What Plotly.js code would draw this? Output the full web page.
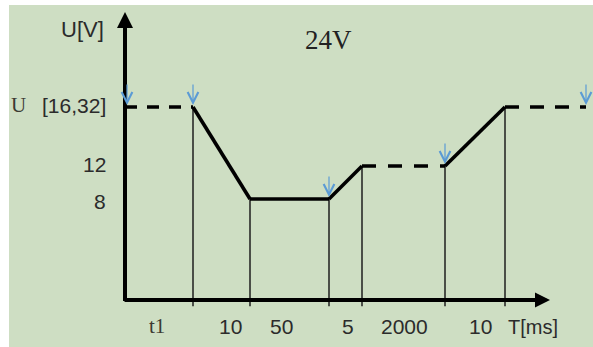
<!DOCTYPE html>
<html>
<head>
<meta charset="utf-8">
<script src="https://cdn.plot.ly/plotly-3.0.1.min.js"></script>
<style>html,body{margin:0;padding:0;background:#fff;}#chart{width:593px;height:347px;}</style>
</head>
<body>
<div id="chart"></div>
<script>
// ---- data (schematic timing diagram, not to scale) ----
const U_SHOWN = 19.15;                       // height at which U (16..32 V) is drawn
const levelValues = [U_SHOWN, 12, 8];
const levelLabels = ['[16,32]', '12', '8'];
const voltage = [U_SHOWN, U_SHOWN, 8, 8, 12, 12, U_SHOWN, U_SHOWN];
const segSpan = [68, 57, 79, 33, 83, 60, 81];   // schematic widths of the phases
const segLabels = ['t1', '10', '50', '5', '2000', '10'];
const segDash = ['dash', 'solid', 'solid', 'solid', 'dash', 'solid', 'dash'];
const markedPoints = [0, 1, 3, 5, 7];          // blue arrows
const baseV = -4.24;                          // level of the time axis

// ---- build ----
const times = [0];
segSpan.forEach(w => times.push(times[times.length - 1] + w));

const W = 593, H = 347, L = 100, R = 0, T = 5, B = 37;
const pw = W - L - R, ph = H - T - B;
const pX = px => (px - L) / pw;
const pY = py => (H - B - py) / ph;

const traces = [];
// vertical guide lines
for (let i = 1; i <= 6; i++) {
  traces.push({x: [times[i], times[i]], y: [voltage[i], baseV - 0.75], mode: 'lines',
    line: {color: '#1e1e1e', width: 1.5}, hoverinfo: 'skip', cliponaxis: false});
}
// waveform
const dashes = ['12px,10px', null, null, null, '14px,12px', null, '14px,11px'];
for (let i = 0; i < segDash.length; i++) {
  traces.push({x: [times[i], times[i + 1]], y: [voltage[i], voltage[i + 1]], mode: 'lines',
    line: {color: '#000', width: 3.6, dash: segDash[i] === 'dash' ? dashes[i] : 'solid'},
    hoverinfo: 'skip', cliponaxis: false});
}

const txt = '#2b2b2b';
const sans = 'Liberation Sans, Arial, sans-serif';
const serif = 'Liberation Serif, Times New Roman, serif';
const ann = [];
// axes with arrows
ann.push({x: 0, y: 12 + (166 - 12) / 8.25, ax: 0, ay: baseV - 0.3, xref: 'x', yref: 'y', axref: 'x', ayref: 'y',
  showarrow: true, arrowhead: 2, arrowsize: 0.8, arrowwidth: 4, arrowcolor: '#000', text: ''});
ann.push({x: 425, y: baseV, ax: -2, ay: baseV, xref: 'x', yref: 'y', axref: 'x', ayref: 'y',
  showarrow: true, arrowhead: 2, arrowsize: 0.75, arrowwidth: 4, arrowcolor: '#000', text: ''});
// blue arrows
markedPoints.forEach(i => {
  ann.push({x: times[i], y: voltage[i], xref: 'x', yref: 'y', ax: 0, ay: -24, xshift: i === 0 ? 2 : 0,
    showarrow: true, arrowhead: 5, arrowsize: 1.75, arrowwidth: 1.2, arrowcolor: '#5b9bd5', standoff: 2, text: ''});
});
// y labels
levelLabels.forEach((t, i) => {
  ann.push({x: pX(108), y: levelValues[i], xref: 'paper', yref: 'y', xanchor: 'right', yanchor: 'middle',
    text: t, showarrow: false, font: {family: sans, size: 21, color: txt}, yshift: i === 2 ? -2 : 2});
});
ann.push({x: pX(9), y: U_SHOWN, xref: 'paper', yref: 'y', xanchor: 'left', yanchor: 'middle', yshift: 2,
  text: 'U', showarrow: false, font: {family: serif, size: 21, color: '#3d3a33'}});
ann.push({x: pX(106), y: pY(29), xref: 'paper', yref: 'paper', xanchor: 'right', yanchor: 'middle',
  text: 'U[V]', showarrow: false, font: {family: sans, size: 22, color: txt}});
ann.push({x: pX(328), y: pY(40), xref: 'paper', yref: 'paper', xanchor: 'center', yanchor: 'middle',
  text: '24V', showarrow: false, font: {family: serif, size: 27, color: '#222'}});
// x labels
const nudge = [-2, 9, -8, 2, 1, 5];
segLabels.forEach((t, i) => {
  ann.push({x: (times[i] + times[i + 1]) / 2, y: pY(326), xref: 'x', yref: 'paper', xanchor: 'center', yanchor: 'middle',
    xshift: nudge[i], text: t, showarrow: false,
    font: {family: i === 0 ? serif : sans, size: 21, color: i === 0 ? '#3d3a33' : txt}});
});
ann.push({x: times[6], y: pY(327), xref: 'x', yref: 'paper', xanchor: 'left', yanchor: 'middle', xshift: 1,
  text: 'T[ms]', showarrow: false, font: {family: sans, size: 20, color: txt}});

const layout = {
  width: W, height: H, autosize: false,
  margin: {l: L, r: R, t: T, b: B, pad: 0},
  paper_bgcolor: '#ffffff', plot_bgcolor: 'rgba(0,0,0,0)',
  showlegend: false,
  xaxis: {range: [-25, 468], visible: false, fixedrange: true},
  yaxis: {range: [-5.45, 31.52], visible: false, fixedrange: true},
  shapes: [{type: 'rect', xref: 'paper', yref: 'paper', x0: pX(9), x1: pX(600), y0: pY(350), y1: pY(5),
    fillcolor: '#cedec3', line: {width: 0}, layer: 'below'}],
  annotations: ann
};
Plotly.newPlot('chart', traces, layout, {staticPlot: true, displayModeBar: false});
</script>
</body>
</html>
